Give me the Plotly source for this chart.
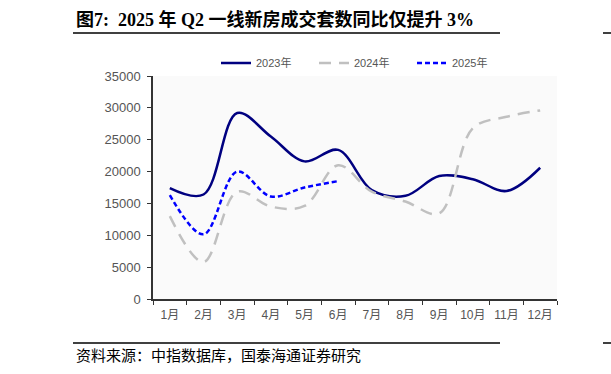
import plotly.graph_objects as go

months = ["1月", "2月", "3月", "4月", "5月", "6月", "7月", "8月", "9月", "10月", "11月", "12月"]
y2023 = [17400, 16400, 29200, 25500, 21600, 23400, 17100, 16200, 19300, 18800, 16950, 20600]
y2024 = [13000, 5800, 16850, 14500, 14600, 21000, 16850, 15300, 13450, 26800, 28600, 29600]
y2025 = [16300, 10150, 20000, 16100, 17500, 18500]

L, R, T, B = 153, 557, 76, 299
W, H = 611, 374

def px(x):
    return (x - L) / (R - L)

def py(y):
    return (B - y) / (B - T)

fig = go.Figure()
fig.add_trace(go.Scatter(x=months, y=y2023, name="2023年", mode="lines",
                         line=dict(color="#000080", width=2.5, shape="spline", smoothing=1)))
fig.add_trace(go.Scatter(x=months, y=y2024, name="2024年", mode="lines",
                         line=dict(color="#C0C0C0", width=2.5, shape="spline", smoothing=1, dash="12px,8px")))
fig.add_trace(go.Scatter(x=months[:len(y2025)], y=y2025, name="2025年", mode="lines",
                         line=dict(color="#0000FF", width=2.5, shape="spline", smoothing=1, dash="5px,3px")))

fig.update_layout(
    width=W, height=H,
    margin=dict(l=L, r=W - R, t=T, b=H - B),
    paper_bgcolor="white",
    plot_bgcolor="#FAFAFA",
    font=dict(family="Liberation Sans, Noto Sans CJK SC", size=12, color="#555555"),
    showlegend=True,
    legend=dict(orientation="h", x=px(216), y=py(63), xanchor="left", yanchor="middle",
                font=dict(size=11, color="#555555"), bgcolor="rgba(0,0,0,0)",
                itemwidth=30, tracegroupgap=0, entrywidth=53, entrywidthmode="pixels"),
    xaxis=dict(type="category", range=[-0.5, 11.5], tickson="boundaries", ticks="outside",
               ticklen=4, tickcolor="#333333", showline=True, linecolor="#333333", linewidth=1.5,
               showgrid=False, zeroline=False, tickangle=0, ticklabelstandoff=4,
               tickfont=dict(size=12, color="#555555")),
    yaxis=dict(range=[0, 35000], dtick=5000, ticks="outside", ticklen=4, tickcolor="#333333",
               showline=True, linecolor="#333333", linewidth=1.5, showgrid=False, zeroline=False,
               tickformat="d", tickfont=dict(size=13, color="#555555"), ticklabelstandoff=4),
)

fig.add_annotation(text="<b>图7:  2025 年 Q2 一线新房成交套数同比仅提升 3%</b>",
                   xref="paper", yref="paper", x=px(74), y=py(20), xanchor="left", yanchor="middle",
                   showarrow=False, font=dict(family="Liberation Serif, Noto Sans CJK SC", size=18, color="#000000"))
fig.add_annotation(text="资料来源：中指数据库，国泰海通证券研究",
                   xref="paper", yref="paper", x=px(74), y=py(354), xanchor="left", yanchor="middle",
                   showarrow=False, font=dict(family="Noto Sans CJK SC", size=15, color="#000000"))

fig.add_shape(type="line", xref="paper", yref="paper", x0=px(73), x1=px(500), y0=py(33), y1=py(33),
              line=dict(color="#000000", width=1.5))
fig.add_shape(type="line", xref="paper", yref="paper", x0=px(73), x1=px(500), y0=py(343), y1=py(343),
              line=dict(color="#000000", width=1.5))
fig.add_shape(type="line", xref="paper", yref="paper", x0=px(603), x1=px(615), y0=py(33), y1=py(33),
              line=dict(color="#000000", width=1.5))
fig.add_shape(type="line", xref="paper", yref="paper", x0=px(603), x1=px(615), y0=py(343), y1=py(343),
              line=dict(color="#000000", width=1.5))

fig.write_html("out.html")
